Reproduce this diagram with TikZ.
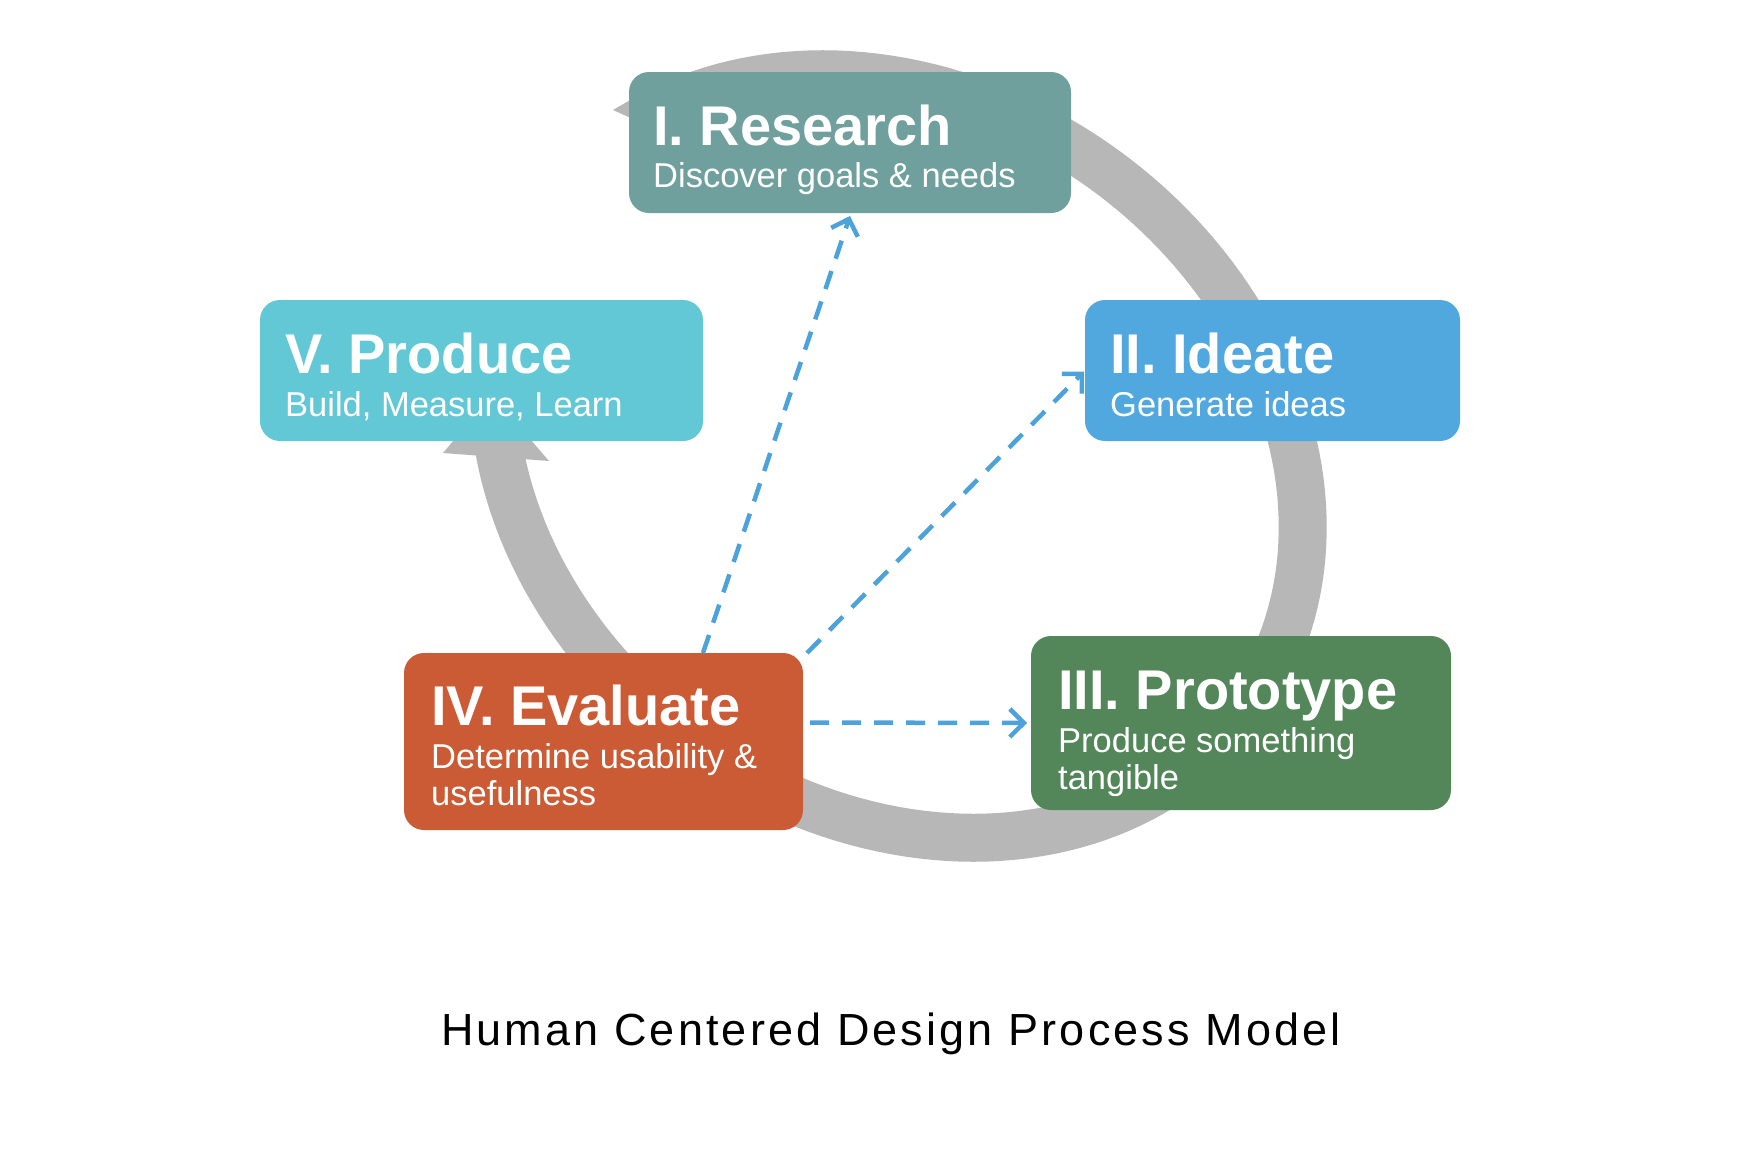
\documentclass[tikz,border=0pt]{standalone}
\usepackage{fontspec}
\setmainfont{Liberation Sans}
\usetikzlibrary{arrows.meta,calc}
\definecolor{cresearch}{HTML}{6FA09D}
\definecolor{cideate}{HTML}{50A8DF}
\definecolor{cproduce}{HTML}{62C8D5}
\definecolor{cevaluate}{HTML}{CB5B34}
\definecolor{cprototype}{HTML}{538659}
\definecolor{cring}{HTML}{B7B7B7}
\definecolor{cdash}{HTML}{4DA3D9}
\begin{document}
\begin{tikzpicture}[x=1pt,y=-1pt,
  box/.style={draw=none, rounded corners=20pt, anchor=north west, inner sep=0pt, outer sep=0pt},
  ttl/.style={anchor=base west, inner sep=0pt, text=white, font=\fontsize{56}{60}\selectfont\bfseries},
  sub/.style={anchor=base west, inner sep=0pt, text=white, font=\fontsize{34.5}{38}\selectfont},
  ring/.style={draw=cring, line width=48pt, line cap=butt, line join=round},
  dasharrow/.style={draw=cdash, line width=4.5pt, dash pattern=on 19pt off 13pt,
     -{Straight Barb[length=14pt,width=28pt,line width=4.5pt]}}]
\useasboundingbox (0,0) rectangle (1764,1151);
\fill[white] (0,0) rectangle (1764,1151);

% grey cycle ring (tilted ellipse)
\draw[ring] plot[domain=202:500, samples=160, variable=\t]
  ({898+346.6*cos(\t)-209*sin(\t)},{456+254.6*cos(\t)+284.5*sin(\t)});
\fill[cring] (443,453) -- (549,461) -- (492,395) -- cycle;
\fill[cring] (644,92) -- (613,110) -- (666,134) -- cycle;

% boxes
\node[box, fill=cresearch, minimum width=442pt, minimum height=141pt] (research) at (629,72) {};
\node[box, fill=cproduce, minimum width=443pt, minimum height=141pt] (produce) at (260,300) {};
\node[box, fill=cideate, minimum width=375pt, minimum height=141pt] (ideate) at (1085,300) {};
\node[box, fill=cevaluate, minimum width=399pt, minimum height=177pt] (eval) at (404,653) {};
\node[box, fill=cprototype, minimum width=420pt, minimum height=174pt] (proto) at (1031,636) {};

% texts
\node[ttl] (researchT) at (653,145) {I. Research};
\node[sub] (researchS) at (653,187) {Discover goals \& needs};
\node[ttl] (produceT) at (285,373) {V. Produce};
\node[sub] (produceS) at (285,416) {Build, Measure, Learn};
\node[ttl] (ideateT) at (1110,373) {II. Ideate};
\node[sub] (ideateS) at (1110,416) {Generate ideas};
\node[ttl] (evalT) at (431,725) {IV. Evaluate};
\node[sub] (evalS1) at (431,768) {Determine usability \&};
\node[sub] (evalS2) at (431,805) {usefulness};
\node[ttl] (protoT) at (1058,709) {III. Prototype};
\node[sub] (protoS1) at (1058,752) {Produce something};
\node[sub] (protoS2) at (1058,789) {tangible};

% dashed arrows
\draw[dasharrow] ($(eval.north west)+(299,0)$) -- ($(research.south west)+(221,3)$);
\draw[dasharrow] ($(eval.north east)+(4,0)$) -- ($(ideate.west)+(-1,1)$);
\draw[dasharrow] ($(eval.east)+(7,-19)$) -- ($(proto.west)+(-4,0)$);

% caption
\node[anchor=base, inner sep=0pt, font=\fontsize{45}{50}\selectfont\addfontfeature{LetterSpace=7}] (caption) at (891,1045) {Human Centered Design Process Model};
\end{tikzpicture}
\end{document}
